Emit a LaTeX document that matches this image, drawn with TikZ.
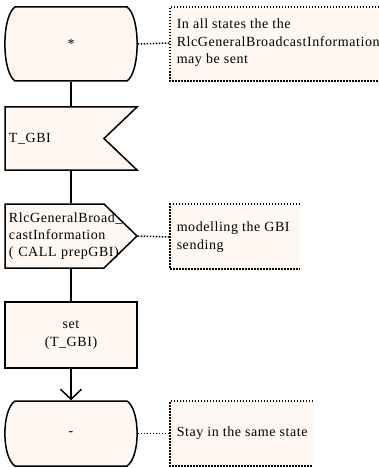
\documentclass[tikz,border=0pt]{standalone}
\usepackage{fontspec}
\setmainfont{Liberation Serif}[LetterSpace=4]
\usetikzlibrary{arrows.meta}
\definecolor{sdlcream}{RGB}{255,248,242}

\begin{document}
\begin{tikzpicture}[x=1pt,y=-1pt,line width=1.5pt,
  sym/.style={draw=black,fill=sdlcream},
  dots/.style={line width=1.5pt,dash pattern=on 1.5pt off 1.5pt},
  lbl/.style={font=\fontsize{14}{17.5}\selectfont,inner sep=0pt,minimum width=132pt},
  cmt/.style={font=\fontsize{14}{17.5}\selectfont,inner xsep=6pt,inner ysep=0pt,anchor=west,align=left}]
\useasboundingbox (0,0) rectangle (379,468);
% comment boxes, open on the right
\foreach \ya/\yb/\xr in {7/81/379, 204/269/300, 401/466/313} {
  \fill[sdlcream] (170,\ya) rectangle (\xr,\yb);
  \draw[dots] (\xr,\ya) -- (170,\ya) -- (170,\yb) -- (\xr,\yb);
}
% state symbols
\foreach \ya/\yb in {7/81, 401/466} {
  \draw[sym] (15,\ya) -- (127,\ya) .. controls (140.5,\ya+9) and (140.5,\yb-9) .. (127,\yb)
    -- (15,\yb) .. controls (1.5,\yb-9) and (1.5,\ya+9) .. cycle;
}
% input and procedure call
\draw[sym] (5,107) -- (137,107) -- (104,138.5) -- (137,170) -- (5,170) -- cycle;
\draw[sym] (5,204) -- (104,204) -- (137,236) -- (104,268) -- (5,268) -- cycle;

\node[lbl,minimum height=74pt] (sa) at (71,44) {*};
\node[lbl,minimum height=63pt,text width=124pt,inner xsep=4pt,align=left] (gbi) at (71,138.5) {T\_GBI};
\node[lbl,minimum height=64pt,text width=124pt,inner xsep=4pt,align=left,font=\fontsize{14}{17}\selectfont] (call) at (71,236)
  {RlcGeneralBroad\_\\castInformation\\( CALL prepGBI)};
\node[lbl,sym,minimum height=66pt,align=center] (set) at (71,335) {set\\(T\_GBI)};
\node[lbl,minimum height=65pt] (sb) at (71,433.5) {-};

\node[cmt] (na) at (170,43) {In all states the the\\RlcGeneralBroadcastInformation\\may be sent};
\node[cmt] (nb) at (170,237) {modelling the GBI\\sending};
\node[cmt] (nc) at (170,433.5) {Stay in the same state};

\draw (sa.south) -- (gbi.north);
\draw (gbi.south) -- (call.north);
\draw (call.south) -- (set.north);
\draw[-{Straight Barb[length=10pt,width=21pt]}] (set.south) -- (sb.north);
\draw[dots] (sa.east) -- (na.west);
\draw[dots] (call.east) -- (nb.west);
\draw[dots] (sb.east) -- (nc.west);
\end{tikzpicture}
\end{document}
